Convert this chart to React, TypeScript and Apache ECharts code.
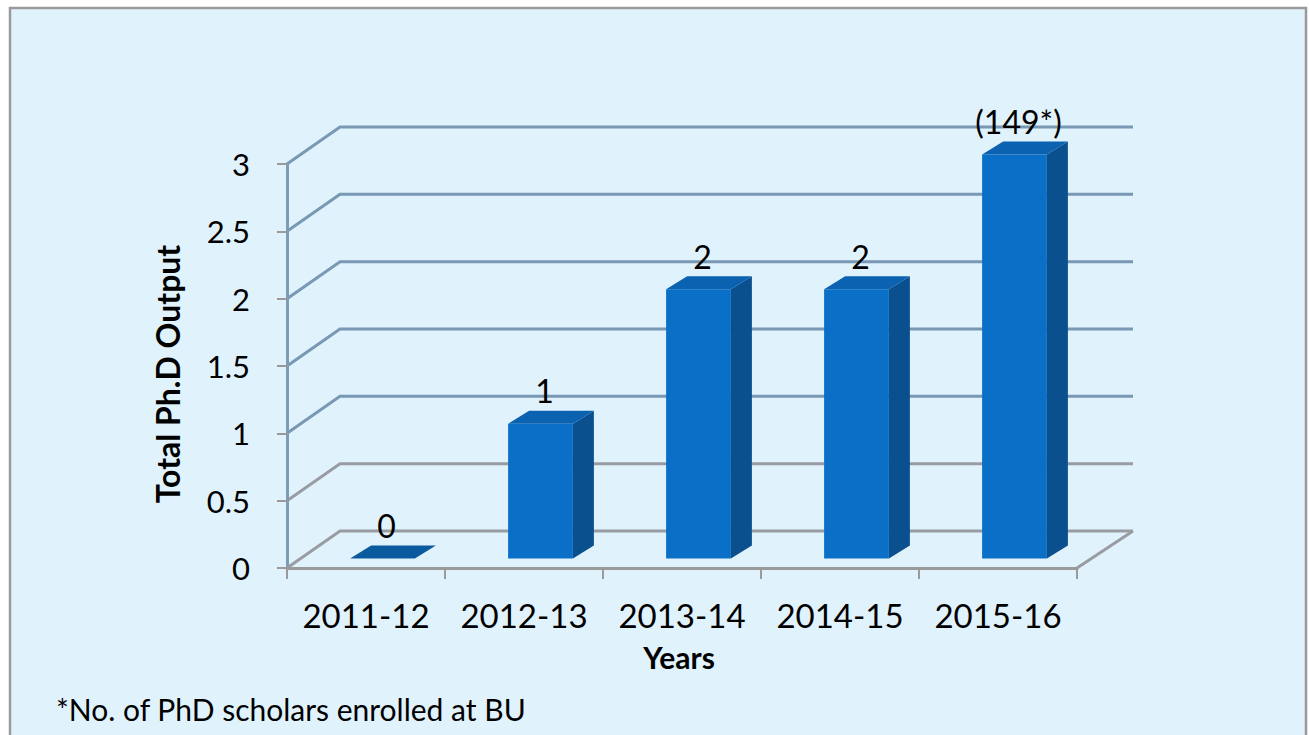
import React, { useEffect, useRef } from "react";
import * as echarts from "echarts";

const categories = ["2011-12", "2012-13", "2013-14", "2014-15", "2015-16"];
const values = [0, 1, 2, 2, 3];
const valueLabels = ["0", "1", "2", "2", "(149*)"];
const yTicks = [0, 0.5, 1, 1.5, 2, 2.5, 3];

const FONT = "Lato, 'Noto Sans', sans-serif";
const WALL_DX = 53;
const WALL_DY = 37;
const BAR_OX = 16.5;
const BAR_OY = 9.5;
const BAR_DX = 21;
const BAR_DY = 13;

export default function App() {
  const ref = useRef<HTMLDivElement>(null);
  useEffect(() => {
    if (!ref.current) return;
    const chart = echarts.init(ref.current, null, { renderer: "svg" });
    const option: any = {
      animation: false,
      backgroundColor: "#ffffff",
      grid: { left: 287, right: 232, top: 164, bottom: 167 },
      xAxis: {
        type: "category",
        data: categories,
        axisLine: { show: true, lineStyle: { color: "#9a9a9a", width: 3 } },
        axisTick: { show: true, length: 11, lineStyle: { color: "#9a9a9a", width: 2 } },
        axisLabel: { interval: 0, fontSize: 33, fontFamily: FONT, color: "#000", margin: 30 },
        z: 3,
      },
      yAxis: {
        type: "value",
        min: 0,
        max: 3,
        interval: 0.5,
        splitLine: { show: false },
        axisLine: { show: true, lineStyle: { color: "#7f9cb6", width: 3 } },
        axisTick: { show: true, length: 10, lineStyle: { color: "#9a9a9a", width: 2 } },
        axisLabel: { fontSize: 31, fontFamily: FONT, color: "#000", margin: 37 },
        z: 3,
      },
      graphic: [
        {
          type: "rect",
          z: -10,
          silent: true,
          shape: { x: 10, y: 8, width: 1296, height: 745 },
          style: { fill: "#e0f2fc", stroke: "#9a9a9a", lineWidth: 2.5 },
        },
        {
          type: "text",
          x: 167,
          y: 374,
          rotation: Math.PI / 2,
          style: {
            text: "Total Ph.D Output",
            fontSize: 32,
            fontWeight: "bold",
            fontFamily: FONT,
            fill: "#000",
            align: "center",
            verticalAlign: "middle",
          },
        },
        {
          type: "text",
          x: 679,
          y: 657,
          style: {
            text: "Years",
            fontSize: 30,
            fontWeight: "bold",
            fontFamily: FONT,
            fill: "#000",
            align: "center",
            verticalAlign: "middle",
          },
        },
        {
          type: "text",
          x: 56,
          y: 709,
          style: {
            text: "*No. of PhD scholars enrolled at BU",
            fontSize: 30,
            fontFamily: FONT,
            fill: "#000",
            align: "left",
            verticalAlign: "middle",
          },
        },
      ],
      series: [
        {
          type: "custom",
          z: 1,
          silent: true,
          data: yTicks.map((v) => [0, v]),
          renderItem: (params: any, api: any) => {
            const v = api.value(1);
            const cs = params.coordSys;
            const y = api.coord([0, v])[1];
            const x0 = cs.x;
            const x1 = cs.x + cs.width;
            const color = v <= 0.5 ? "#9a9ca3" : "#7898b4";
            const children: any[] = [
              {
                type: "polyline",
                shape: {
                  points: [
                    [x0, y],
                    [x0 + WALL_DX, y - WALL_DY],
                    [x1 + WALL_DX + 3, y - WALL_DY],
                  ],
                },
                style: { stroke: color, lineWidth: 3, fill: null },
              },
            ];
            if (v === 0) {
              children.push({
                type: "line",
                shape: { x1: x1, y1: y, x2: x1 + WALL_DX + 3, y2: y - WALL_DY },
                style: { stroke: color, lineWidth: 3 },
              });
            }
            return { type: "group", children };
          },
        },
        {
          type: "custom",
          z: 2,
          data: values.map((v, i) => [i, v]),
          renderItem: (params: any, api: any) => {
            const i = api.value(0);
            const v = api.value(1);
            const base = api.coord([i, 0]);
            const top = api.coord([i, v]);
            const band = api.size([1, 0])[0];
            const w = band * 0.41;
            const cx = base[0] + BAR_OX;
            const xl = cx - w / 2;
            const xr = cx + w / 2;
            const yb = base[1] - BAR_OY;
            const yt = top[1] - BAR_OY;
            const children: any[] = [];
            if (v > 0) {
              children.push({
                type: "rect",
                shape: { x: xl, y: yt, width: w, height: yb - yt },
                style: { fill: "#0a6fc6" },
              });
              children.push({
                type: "polygon",
                shape: {
                  points: [
                    [xr, yt],
                    [xr + BAR_DX, yt - BAR_DY],
                    [xr + BAR_DX, yb - BAR_DY],
                    [xr, yb],
                  ],
                },
                style: { fill: "#0a4f8e" },
              });
            }
            children.push({
              type: "polygon",
              shape: {
                points: [
                  [xl, yt],
                  [xl + BAR_DX, yt - BAR_DY],
                  [xr + BAR_DX, yt - BAR_DY],
                  [xr, yt],
                ],
              },
              style: { fill: v > 0 ? "#0b62b0" : "#0a5a9e" },
            });
            children.push({
              type: "text",
              x: cx + 4,
              y: yt - 33,
              style: {
                text: valueLabels[i],
                fontSize: 32,
                fontFamily: FONT,
                fill: "#000",
                align: "center",
                verticalAlign: "middle",
              },
            });
            return { type: "group", children };
          },
        },
      ],
    };
    chart.setOption(option);
    return () => chart.dispose();
  }, []);
  return (
    <div
      ref={ref}
      style={{ position: "fixed", left: 0, top: 0, width: 1309, height: 735 }}
    />
  );
}
